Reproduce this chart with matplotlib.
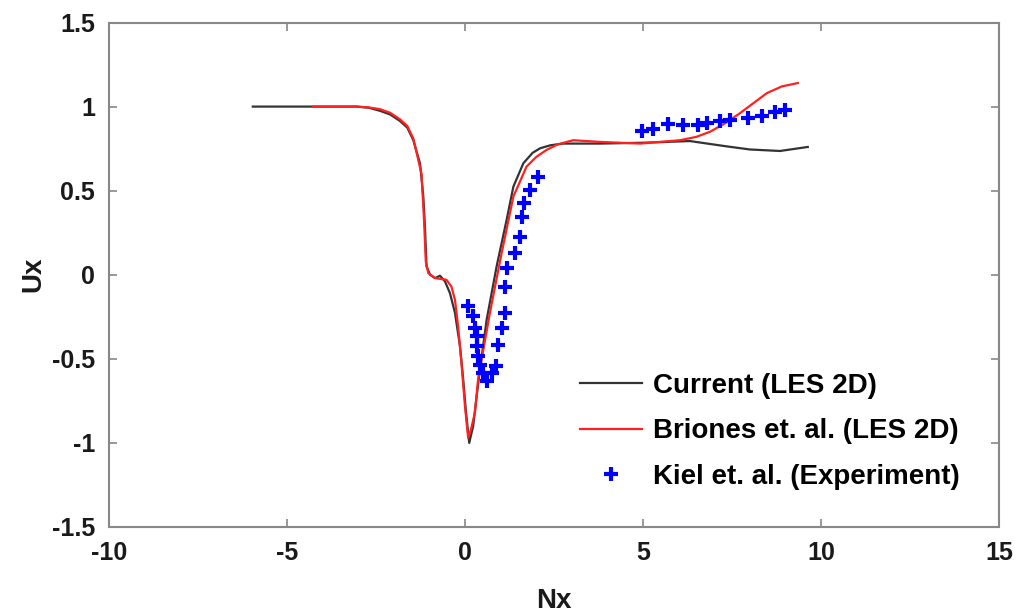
import matplotlib.pyplot as plt

plt.rcParams['font.family'] = ['Liberation Sans', 'DejaVu Sans']
plt.rcParams['font.weight'] = 'bold'
plt.rcParams['axes.unicode_minus'] = False

# Current (LES 2D)
cur_x = [-5.96, -3.04, -2.7, -2.39, -2.1, -1.83, -1.62, -1.45, -1.26, -1.17,
         -1.12, -1.08, -0.98, -0.84, -0.70, -0.56, -0.42, -0.28, -0.14, -0.05,
         0.03, 0.12, 0.23, 0.33, 0.42, 0.61, 0.89, 1.17, 1.36, 1.64, 1.9, 2.11,
         2.4, 2.76, 3.79, 5.0, 6.32, 7.3, 8.0, 8.85, 9.63]
cur_y = [1.0, 1.0, 0.993, 0.975, 0.953, 0.915, 0.875, 0.80, 0.66, 0.465,
         0.267, 0.05, 0.0, -0.02, -0.006, -0.04, -0.11, -0.227, -0.425, -0.62,
         -0.82, -1.0, -0.90, -0.72, -0.564, -0.267, 0.05, 0.326, 0.524, 0.663,
         0.725, 0.752, 0.77, 0.78, 0.78, 0.785, 0.795, 0.765, 0.745, 0.736, 0.76]

# Briones et. al. (LES 2D)
bri_x = [-4.27, -3.04, -2.7, -2.39, -2.1, -1.83, -1.62, -1.45, -1.22, -1.15,
         -1.10, -1.03, -0.84, -0.52, -0.38, -0.28, -0.19, -0.10, 0.0, 0.09,
         0.17, 0.28, 0.37, 0.70, 1.03, 1.36, 1.73, 2.0, 2.29, 2.6, 3.04, 3.79,
         4.92, 6.04, 6.5, 6.88, 7.3, 7.72, 8.1, 8.48, 8.9, 9.35]
bri_y = [1.0, 1.0, 0.995, 0.985, 0.963, 0.925, 0.885, 0.81, 0.60, 0.33,
         0.08, 0.01, -0.02, -0.03, -0.07, -0.15, -0.31, -0.52, -0.78, -0.97,
         -0.92, -0.82, -0.62, -0.227, 0.129, 0.465, 0.643, 0.70, 0.742, 0.775,
         0.80, 0.79, 0.78, 0.80, 0.82, 0.85, 0.90, 0.96, 1.02, 1.08, 1.12, 1.14]

# Kiel et. al. (Experiment)
exp_x = [0.09, 0.23, 0.28, 0.33, 0.33, 0.37, 0.42, 0.51, 0.61, 0.75, 0.87,
         0.94, 1.03, 1.12, 1.12, 1.17, 1.40, 1.54, 1.59, 1.66, 1.83, 2.06,
         4.96, 5.29, 5.71, 6.13, 6.54, 6.79, 7.16, 7.44, 7.96, 8.33, 8.71, 8.99]
exp_y = [-0.188, -0.247, -0.317, -0.366, -0.425, -0.485, -0.534, -0.584, -0.633,
         -0.584, -0.54, -0.42, -0.317, -0.227, -0.073, 0.04, 0.129, 0.227, 0.342,
         0.425, 0.504, 0.58,
         0.855, 0.865, 0.894, 0.89, 0.89, 0.904, 0.914, 0.92, 0.934, 0.944, 0.969,
         0.979]

fig = plt.figure(figsize=(10.23, 6.15), dpi=100)
ax = fig.add_axes([0.1065, 0.1431, 0.870, 0.8203])

ax.plot(cur_x, cur_y, color='#333333', lw=1.6, label='Current (LES 2D)')
ax.plot(bri_x, bri_y, color='#ff2020', lw=1.6, label='Briones et. al. (LES 2D)')
ax.plot(exp_x, exp_y, ls='none', marker='+', color='#0000ff', ms=10, mew=3,
        label='Kiel et. al. (Experiment)')

ax.set_xlim(-10, 15)
ax.set_ylim(-1.5, 1.5)
ax.set_xticks([-10, -5, 0, 5, 10, 15])
ax.set_yticks([-1.5, -1, -0.5, 0, 0.5, 1, 1.5])
ax.set_yticklabels(['-1.5', '-1', '-0.5', '0', '0.5', '1', '1.5'])
ax.tick_params(direction='in', length=6, width=1.2, color='#888888',
               top=True, right=True, labelsize=18, labelcolor='#1a1a1a', pad=10)
for s in ax.spines.values():
    s.set_color('#888888')
    s.set_linewidth(1.5)

ax.set_xlabel('Nx', fontsize=20, fontweight='bold', color='#1a1a1a', labelpad=17)
ax.set_ylabel('Ux', fontsize=20, fontweight='bold', color='#1a1a1a', labelpad=4)

ax.legend(loc='upper left', bbox_to_anchor=(0.553, 0.416),
          bbox_transform=fig.transFigure, frameon=False, fontsize=20,
          borderpad=0, handlelength=2.23, handletextpad=0.43, labelspacing=0.7)

fig.savefig('out.png', dpi=100)
